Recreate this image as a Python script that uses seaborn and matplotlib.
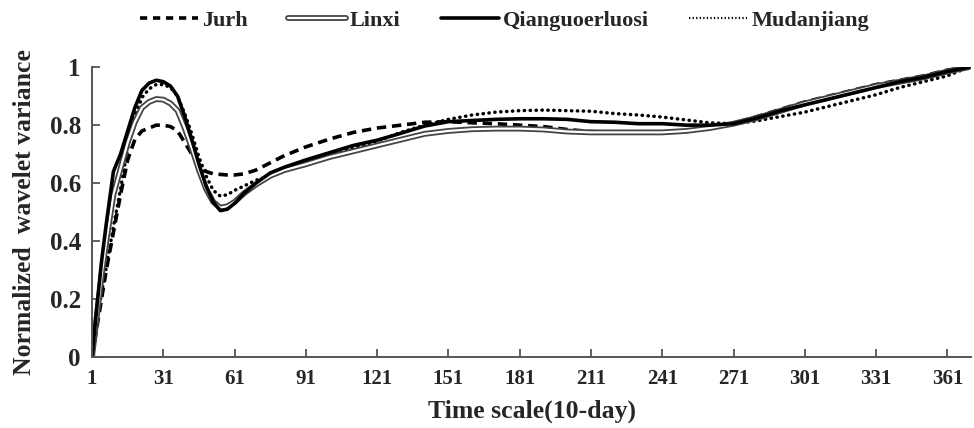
import seaborn as sns
import matplotlib.pyplot as plt
import pandas as pd
from matplotlib.lines import Line2D
from matplotlib.legend_handler import HandlerTuple

# time scale (10-day) sample points
scale = [1, 3, 5, 7, 10, 13, 16, 19, 22, 25, 28, 31, 34, 37, 40, 43, 46, 49, 52, 55,
         58, 61, 65, 70, 76, 82, 91, 101, 111, 121, 131, 141, 151, 161, 171, 181, 191,
         201, 211, 221, 231, 241, 251, 261, 271, 281, 291, 301, 311, 321, 331, 341,
         351, 361, 370]

jurh = [0.0, 0.10, 0.20, 0.30, 0.43, 0.56, 0.68, 0.75, 0.78, 0.79, 0.80, 0.80, 0.795,
        0.78, 0.74, 0.70, 0.665, 0.64, 0.632, 0.63, 0.628, 0.628, 0.632, 0.645, 0.67,
        0.695, 0.725, 0.752, 0.775, 0.79, 0.80, 0.81, 0.812, 0.808, 0.805, 0.80, 0.795,
        0.785, 0.778, 0.775, 0.775, 0.775, 0.778, 0.79, 0.805, 0.83, 0.855, 0.88, 0.90,
        0.92, 0.94, 0.955, 0.97, 0.99, 1.0]

linxi = [0.0, 0.14, 0.28, 0.40, 0.56, 0.65, 0.74, 0.81, 0.86, 0.88, 0.89, 0.888, 0.875,
         0.85, 0.79, 0.72, 0.645, 0.58, 0.535, 0.515, 0.52, 0.535, 0.565, 0.595, 0.625,
         0.645, 0.665, 0.69, 0.71, 0.73, 0.75, 0.77, 0.78, 0.786, 0.788, 0.788, 0.785,
         0.778, 0.775, 0.775, 0.775, 0.775, 0.78, 0.79, 0.805, 0.825, 0.85, 0.875, 0.895,
         0.915, 0.935, 0.95, 0.965, 0.985, 1.0]

qiang = [0.0, 0.17, 0.33, 0.46, 0.64, 0.70, 0.78, 0.86, 0.92, 0.945, 0.955, 0.95, 0.935,
         0.90, 0.83, 0.75, 0.665, 0.59, 0.535, 0.505, 0.51, 0.53, 0.565, 0.60, 0.635,
         0.655, 0.68, 0.705, 0.73, 0.748, 0.772, 0.797, 0.812, 0.816, 0.82, 0.822, 0.822,
         0.82, 0.812, 0.81, 0.805, 0.805, 0.80, 0.80, 0.805, 0.825, 0.85, 0.87, 0.89,
         0.91, 0.93, 0.95, 0.965, 0.985, 1.0]

mudan = [0.0, 0.13, 0.22, 0.31, 0.45, 0.58, 0.72, 0.83, 0.895, 0.925, 0.94, 0.94, 0.93,
         0.90, 0.84, 0.77, 0.69, 0.625, 0.575, 0.555, 0.56, 0.575, 0.59, 0.61, 0.625,
         0.645, 0.67, 0.695, 0.72, 0.745, 0.775, 0.80, 0.82, 0.835, 0.845, 0.85, 0.852,
         0.85, 0.848, 0.84, 0.835, 0.828, 0.818, 0.808, 0.805, 0.815, 0.83, 0.845, 0.865,
         0.885, 0.905, 0.93, 0.95, 0.97, 1.0]

xticks = [1, 31, 61, 91, 121, 151, 181, 211, 241, 271, 301, 331, 361]
yticks = [0, 0.2, 0.4, 0.6, 0.8, 1]
ytick_labels = ['0', '0.2', '0.4', '0.6', '0.8', '1']

df = pd.DataFrame({'scale': scale, 'Jurh': jurh, 'Linxi': linxi,
                   'Qianguoerluosi': qiang, 'Mudanjiang': mudan})

sns.set_theme(style="ticks")
plt.rcParams['font.family'] = ['Liberation Serif', 'DejaVu Serif']
plt.rcParams['font.weight'] = 'bold'
plt.rcParams['axes.labelweight'] = 'bold'

fig, ax = plt.subplots(figsize=(9.74, 4.28), dpi=100)
fig.subplots_adjust(left=0.0945, right=0.997, bottom=0.166, top=0.843)

dot_style = (0, (0.1, 1.6))
dash_style = (0, (2.6, 1.6))

sns.lineplot(data=df, x='scale', y='Mudanjiang', ax=ax, color='black', lw=2.5,
             linestyle=dot_style, dash_capstyle='round')
sns.lineplot(data=df, x='scale', y='Jurh', ax=ax, color='black', lw=2.6,
             linestyle=dash_style)
sns.lineplot(data=df, x='scale', y='Linxi', ax=ax, color='#444444', lw=4.2)
sns.lineplot(data=df, x='scale', y='Linxi', ax=ax, color='white', lw=1.6)
sns.lineplot(data=df, x='scale', y='Qianguoerluosi', ax=ax, color='black', lw=2.6)

ax.set_xlim(1, 371)
ax.set_ylim(0, 1)
ax.set_xticks(xticks)
ax.set_yticks(yticks)
ax.set_yticklabels(ytick_labels)
ax.tick_params(direction='in', length=6, width=1.3, color='#555555')
ax.tick_params(axis='y', labelsize=18, pad=8)
ax.tick_params(axis='x', labelsize=15, pad=9)
for side in ['left', 'bottom']:
    ax.spines[side].set_color('#555555')
    ax.spines[side].set_linewidth(1.4)
sns.despine(ax=ax)

ax.set_xlabel('Time scale(10-day)', fontsize=18.5, fontweight='bold', labelpad=7)
ax.set_ylabel('Normalized  wavelet variance', fontsize=18.5, fontweight='bold', labelpad=10)

h_jurh = Line2D([], [], color='black', lw=2.6, linestyle=(0, (2.0, 1.6)))
h_lin_a = Line2D([], [], color='#444444', lw=4.2)
h_lin_b = Line2D([], [], color='white', lw=1.6)
h_qiang = Line2D([], [], color='black', lw=2.6)
h_mudan = Line2D([], [], color='black', lw=1.6, linestyle=(0, (0.6, 1.0)))
fig.legend([h_jurh, (h_lin_a, h_lin_b), h_qiang, h_mudan],
           ['Jurh', 'Linxi', 'Qianguoerluosi', 'Mudanjiang'],
           handler_map={tuple: HandlerTuple(ndivide=1)},
           loc='center', bbox_to_anchor=(0.518, 0.952), ncol=4, frameon=False,
           handlelength=2.6, handletextpad=0.2, columnspacing=1.8,
           prop={'weight': 'bold', 'size': 16})

plt.savefig('out.png', dpi=100)
